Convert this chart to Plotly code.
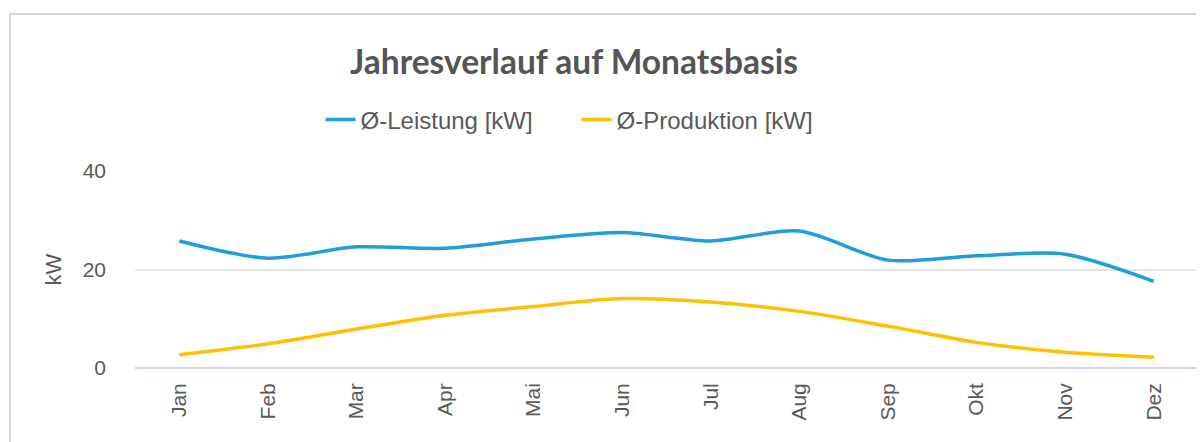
import plotly.graph_objects as go

months = ["Jan", "Feb", "Mar", "Apr", "Mai", "Jun", "Jul", "Aug", "Sep", "Okt", "Nov", "Dez"]
leistung = [25.8, 22.3, 24.6, 24.3, 26.2, 27.5, 25.8, 27.8, 21.9, 22.8, 23.1, 17.6]
produktion = [2.7, 4.9, 7.9, 10.7, 12.5, 14.1, 13.4, 11.5, 8.5, 5.2, 3.2, 2.2]

BLUE = "#1f9ed9"
YELLOW = "#ffc000"
GREY = "#595959"

fig = go.Figure()
fig.add_trace(go.Scatter(
    x=months, y=leistung, name="Ø-Leistung [kW]", mode="lines",
    line=dict(color=BLUE, width=3.5, shape="spline", smoothing=0.8),
))
fig.add_trace(go.Scatter(
    x=months, y=produktion, name="Ø-Produktion [kW]", mode="lines",
    line=dict(color=YELLOW, width=3.5, shape="spline", smoothing=0.8),
))

# the page body adds an 8px offset, so the figure is 8px smaller than the window
fig.update_layout(
    width=1196, height=434,
    margin=dict(l=127, r=6, t=163, b=74),
    paper_bgcolor="white", plot_bgcolor="white",
    font=dict(family="Liberation Sans, Arial, sans-serif", color=GREY),
    showlegend=True,
    legend=dict(
        orientation="h", x=0.4154, xanchor="center", y=1.26, yanchor="middle",
        font=dict(size=24, color=GREY), itemwidth=30, tracegroupgap=0,
        entrywidth=211, entrywidthmode="pixels",
    ),
    xaxis=dict(
        type="category", range=[-0.5, 11.5], tickangle=-90,
        tickfont=dict(size=21, color=GREY), showgrid=False,
        showline=False, zeroline=False, ticks="", ticklabelstandoff=10,
    ),
    yaxis=dict(
        range=[0, 40], tickvals=[0, 20, 40], tickfont=dict(size=21, color=GREY),
        gridcolor="#e4e4e4", gridwidth=1.5, zeroline=True, zerolinecolor="#cdd6e8",
        zerolinewidth=2, showline=False, ticks="", ticklabelstandoff=28,
        title=dict(text="kW", font=dict(size=22, color=GREY), standoff=14),
    ),
    annotations=[dict(
        text="<b>Jahresverlauf auf Monatsbasis</b>", xref="paper", yref="paper",
        x=0.4127, y=1.56, xanchor="center", yanchor="middle", showarrow=False,
        font=dict(family="Lato, Nunito, sans-serif", size=33.5, color="#555555"),
    )],
    shapes=[
        dict(type="line", xref="paper", yref="paper", x0=-0.1176, x1=1.01, y0=1.797, y1=1.797,
             line=dict(color="#d6d6d6", width=2)),
        dict(type="line", xref="paper", yref="paper", x0=-0.1176, x1=-0.1176, y0=-0.4, y1=1.797,
             line=dict(color="#d6d6d6", width=2)),
    ],
)

fig.write_html("out.html")
